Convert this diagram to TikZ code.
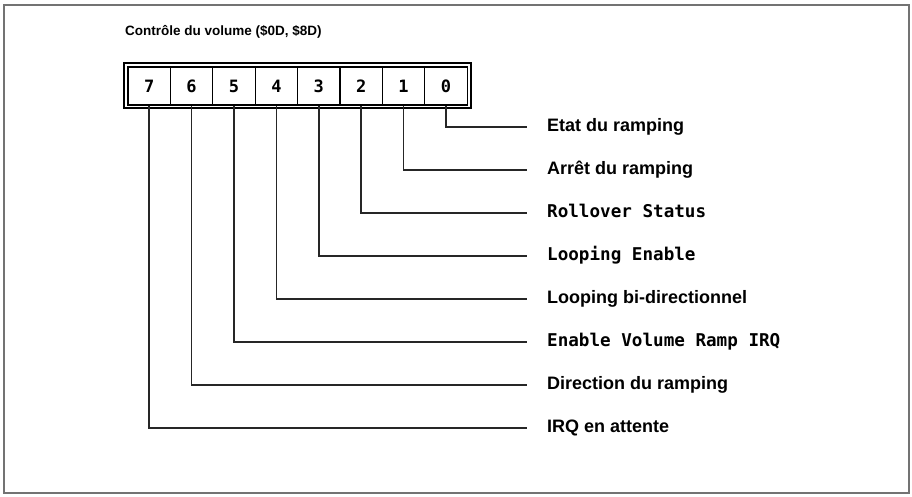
\documentclass[tikz,border=0pt]{standalone}
\usepackage{fontspec}
\setmainfont{Liberation Sans}
\newfontfamily\digitfont{DejaVu Sans Mono}
\newfontfamily\monofont{DejaVu Sans Mono}
\usetikzlibrary{positioning}

\tikzset{
  bitcell/.style={draw, line width=1.2pt, minimum width=42.4pt, minimum height=38pt,
    inner sep=0pt, font=\digitfont\bfseries\fontsize{17}{17}\selectfont},
  bitlabel/.style={anchor=west, inner sep=0pt, text height=13pt, text depth=4pt,
    font=\bfseries\fontsize{18}{18}\selectfont},
  monolabel/.style={bitlabel, font=\monofont\bfseries\fontsize{17.6}{18}\selectfont},
  wire/.style={line width=1.5pt, draw=black!85}
}

\begin{document}
\begin{tikzpicture}[x=1pt, y=-1pt]
    \useasboundingbox (0,0) rectangle (912,497);
    % outer frame
    \draw[line width=1.5pt, draw=black!55] (4,5) rectangle (909,493);
    % title
    \node[anchor=west, inner sep=0pt, font=\bfseries\fontsize{13.5}{14}\selectfont] (title) at (125,32)
        {Contrôle du volume (\$0D, \$8D)};
    % register
    \draw[line width=1.2pt] (124,63) rectangle (471,108);
    \foreach \k in {0,...,7}
        \node[bitcell] (b\k) at ({128+42.4*(7-\k)+21.2},86) {\k};
    % labels
    \node[bitlabel]  (l0) at (547,127) {Etat du ramping};
    \node[bitlabel]  (l1) at (547,170) {Arrêt du ramping};
    \node[monolabel] (l2) at (547,213) {Rollover Status};
    \node[monolabel] (l3) at (547,256) {Looping Enable};
    \node[bitlabel]  (l4) at (547,299) {Looping bi-directionnel};
    \node[monolabel] (l5) at (547,342) {Enable Volume Ramp IRQ};
    \node[bitlabel]  (l6) at (547,385) {Direction du ramping};
    \node[bitlabel]  (l7) at (547,428) {IRQ en attente};
    % connectors
    \foreach \k in {0,...,7}
        \draw[wire] (b\k.south) |- ([xshift=-20pt]l\k.west);
\end{tikzpicture}
\end{document}
